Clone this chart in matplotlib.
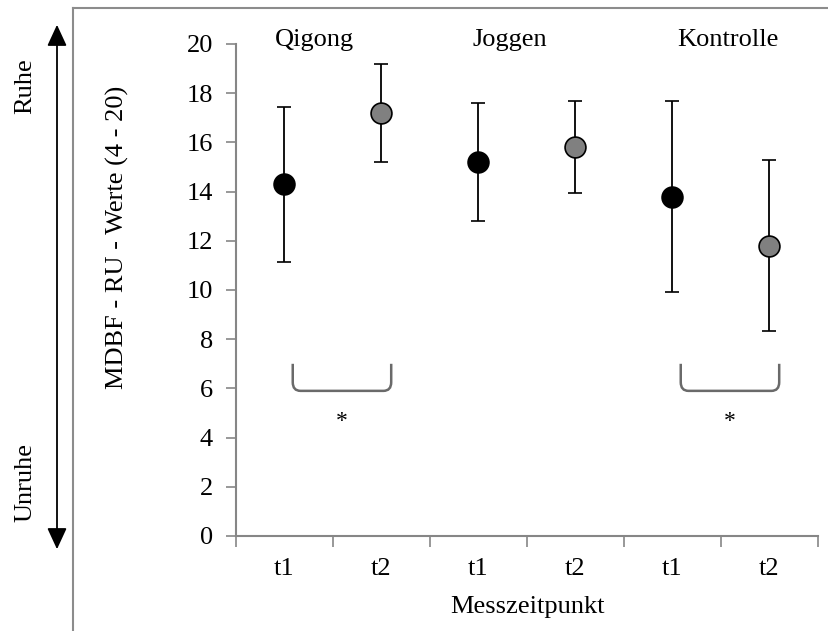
"""MDBF RU scores (mean +/- SD) per group and measurement time."""

import matplotlib.pyplot as plt
from matplotlib.lines import Line2D
from matplotlib.patches import FancyArrowPatch, PathPatch
from matplotlib.path import Path

plt.rcParams["font.family"] = ["Liberation Serif", "DejaVu Serif"]

groups = ["Qigong", "Joggen", "Kontrolle"]
tick_labels = ["t1", "t2", "t1", "t2", "t1", "t2"]
means = [14.3, 17.2, 15.2, 15.8, 13.8, 11.8]
sds = [3.15, 2.0, 2.4, 1.87, 3.87, 3.48]
is_t2 = [False, True, False, True, False, True]
# significant pre/post pairs (index of t1, index of t2)
sig_pairs = [(0, 1), (4, 5)]

FONT = 19
GRAY = "#868686"

fig = plt.figure(figsize=(8.29, 6.31), dpi=100)
W, H = 829, 631
ax = fig.add_axes([236 / W, 1 - 536 / H, (818 - 236) / W, (536 - 44) / H])

for i, (m, s, t2) in enumerate(zip(means, sds, is_t2)):
    ax.errorbar(i, m, yerr=s, fmt="o", color="black", ecolor="black",
                elinewidth=1.3, capsize=5, capthick=1.3,
                markersize=15, markerfacecolor="#808080" if t2 else "black",
                markeredgecolor="black", markeredgewidth=1.2, zorder=3)

ax.set_xlim(-0.5, 5.5)
ax.set_ylim(0, 20)
ax.set_yticks(range(0, 21, 2))
ax.set_xticks([i + 0.5 for i in range(-1, 6)], minor=False)
ax.set_xticklabels([])
ax.set_xticks(range(6), minor=True)
ax.set_xticklabels(tick_labels, minor=True)
ax.tick_params(axis="x", which="major", direction="out", length=8, width=1.2, color=GRAY)
ax.tick_params(axis="x", which="minor", length=0, pad=16, labelsize=FONT)
ax.tick_params(axis="y", direction="out", length=7, width=1.2, color=GRAY,
               labelsize=FONT, pad=9.5)

for side in ["top", "right"]:
    ax.spines[side].set_visible(False)
for side in ["left", "bottom"]:
    ax.spines[side].set_color(GRAY)
    ax.spines[side].set_linewidth(1.5)

ax.set_xlabel("Messzeitpunkt", fontsize=FONT, labelpad=11)

# group titles
for x, name in zip([0.31, 2.32, 4.57], groups):
    ax.text(x, 20.15, name, ha="center", va="center", fontsize=FONT, clip_on=False)

# significance brackets
rx, ry = 0.08, 0.35
for a, b in sig_pairs:
    x0, x1 = a + 0.085, b + 0.1
    top, bot = 7.0, 5.9
    verts = [(x0, top), (x0, bot + ry), (x0, bot), (x0 + rx, bot),
             (x1 - rx, bot), (x1, bot), (x1, bot + ry), (x1, top)]
    codes = [Path.MOVETO, Path.LINETO, Path.CURVE3, Path.CURVE3,
             Path.LINETO, Path.CURVE3, Path.CURVE3, Path.LINETO]
    ax.add_patch(PathPatch(Path(verts, codes), fill=False, edgecolor="#6a6a6a",
                           linewidth=1.8))
    ax.text((x0 + x1) / 2, 4.65, "*", ha="center", va="center", fontsize=FONT - 2)

fig.text(117 / W, 1 - 237 / H, "MDBF - RU - Werte (4 - 20)", rotation=90,
         ha="center", va="center", fontsize=FONT)

# outer frame (only left and top edges visible)
fig.add_artist(Line2D([73 / W, 73 / W], [0, 1 - 8 / H], color="#8c8c8c", linewidth=1.5))
fig.add_artist(Line2D([73 / W, 1], [1 - 8 / H, 1 - 8 / H], color="#8c8c8c", linewidth=1.5))

# Ruhe / Unruhe arrow
arrow = FancyArrowPatch((57 / W, 1 - 552 / H), (57 / W, 1 - 22 / H),
                        transform=fig.transFigure,
                        arrowstyle="<|-|>,head_length=0.65,head_width=0.3",
                        mutation_scale=20, color="black", linewidth=1.3)
fig.add_artist(arrow)
fig.text(25 / W, 1 - 86 / H, "Ruhe", rotation=90, ha="center", va="center", fontsize=FONT)
fig.text(25 / W, 1 - 482 / H, "Unruhe", rotation=90, ha="center", va="center", fontsize=FONT)

fig.savefig("out.png", dpi=100)
